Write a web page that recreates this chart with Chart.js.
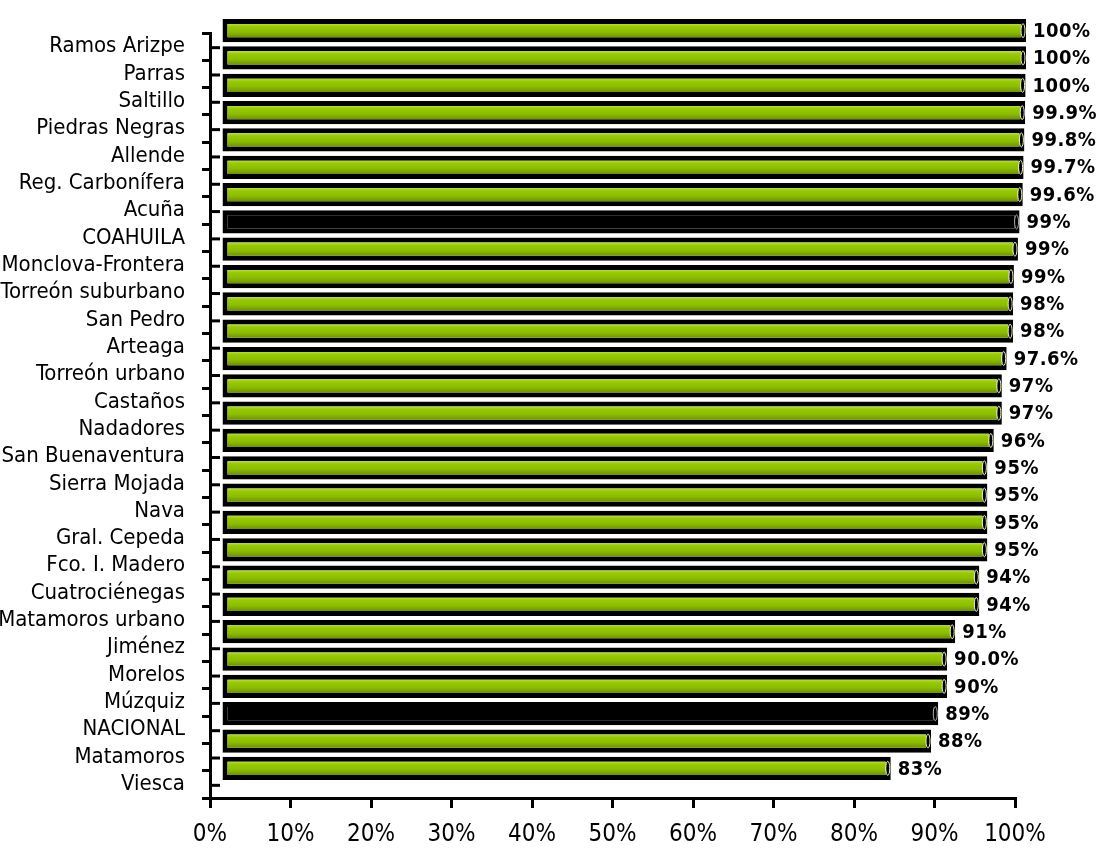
<!DOCTYPE html>
<html>
<head>
<meta charset="utf-8">
<title>Cobertura</title>
<script src="https://cdn.jsdelivr.net/npm/chart.js@4.4.0/dist/chart.umd.min.js"></script>
<style>
  body { margin: 0; background: #fff; }
  #wrap { width: 1099px; height: 854px; }
</style>
</head>
<body>
<div id="wrap"><canvas id="coberturaChart"></canvas></div>
<script>
var municipios = ['Ramos Arizpe', 'Parras', 'Saltillo', 'Piedras Negras', 'Allende',
    'Reg. Carbonífera', 'Acuña', 'COAHUILA', 'Monclova-Frontera', 'Torreón suburbano',
    'San Pedro', 'Arteaga', 'Torreón urbano', 'Castaños', 'Nadadores', 'San Buenaventura',
    'Sierra Mojada', 'Nava', 'Gral. Cepeda', 'Fco. I. Madero', 'Cuatrociénegas',
    'Matamoros urbano', 'Jiménez', 'Morelos', 'Múzquiz', 'NACIONAL', 'Matamoros', 'Viesca'];

var cobertura = [100, 100, 99.95, 99.9, 99.8, 99.7, 99.6, 99.2, 99.0, 98.5,
    98.4, 98.4, 97.6, 97.0, 97.0, 96.0, 95.2, 95.2, 95.2, 95.2, 94.2,
    94.2, 91.2, 90.2, 90.2, 89.1, 88.2, 83.2];

var etiquetas = ['100%', '100%', '100%', '99.9%', '99.8%', '99.7%', '99.6%', '99%', '99%', '99%',
    '98%', '98%', '97.6%', '97%', '97%', '96%', '95%', '95%', '95%', '95%', '94%',
    '94%', '91%', '90.0%', '90%', '89%', '88%', '83%'];

var xTicks = [0, 10, 20, 30, 40, 50, 60, 70, 80, 90, 100];

var narrow = "'Liberation Sans Narrow', 'Arial Narrow', 'DejaVu Sans Condensed', sans-serif";
var dx = 11, dy = -16;

function esTotal(i) {
    return municipios[i] === 'COAHUILA' || municipios[i] === 'NACIONAL';
}

function barFill(c) {
    if (esTotal(c.dataIndex)) return '#000000';
    var ys = c.chart.scales.y;
    var y = ys ? ys.getPixelForValue(c.dataIndex) : NaN;
    if (!isFinite(y)) return '#8cbc00';
    var g = c.chart.ctx.createLinearGradient(0, y - 7, 0, y + 7);
    g.addColorStop(0, '#b8e040');
    g.addColorStop(0.22, '#98ca00');
    g.addColorStop(0.6, '#8cbc00');
    g.addColorStop(1, '#6a9000');
    return g;
}

// shift the bars like the 3D depth of the original
var depthShift = {
    id: 'depthShift',
    beforeDatasetsDraw: function (chart) {
        chart.ctx.save();
        chart.ctx.translate(dx, dy);
    },
    afterDatasetsDraw: function (chart) {
        var ctx = chart.ctx;
        var meta = chart.getDatasetMeta(0);
        meta.data.forEach(function (bar, i) {
            // end cap
            ctx.beginPath();
            ctx.ellipse(bar.x - 3, bar.y, 2, 7, 0, 0, Math.PI * 2);
            ctx.strokeStyle = esTotal(i) ? '#aaa' : '#e8f5c0';
            ctx.lineWidth = 1;
            ctx.stroke();
            // value label
            ctx.font = 'bold 20px ' + narrow;
            ctx.letterSpacing = '0.5px';
            ctx.fillStyle = '#000';
            ctx.textAlign = 'left';
            ctx.textBaseline = 'middle';
            ctx.fillText(etiquetas[i], bar.x + 7, bar.y + 1);
        });
        ctx.restore();

        // short stubs on the y axis
        var ys = chart.scales.y;
        ctx.save();
        ctx.strokeStyle = '#000';
        ctx.lineWidth = 3;
        for (var k = 0; k < municipios.length; k++) {
            var py = ys.getPixelForValue(k) + 1;
            ctx.beginPath();
            ctx.moveTo(ys.right, py);
            ctx.lineTo(ys.right + 10, py);
            ctx.stroke();
        }
        ctx.restore();
    }
};

var ctx = document.getElementById('coberturaChart').getContext('2d');
var coberturaChart = new Chart(ctx, {
    type: 'bar',
    data: {
        labels: municipios,
        datasets: [
            {
                label: 'Cobertura',
                data: cobertura,
                backgroundColor: barFill,
                borderColor: '#000',
                borderWidth: 5,
                borderSkipped: false,
                barPercentage: 0.85,
                categoryPercentage: 1
            }
        ]
    },
    plugins: [depthShift],
    options: {
        indexAxis: 'y',
        responsive: true,
        maintainAspectRatio: false,
        animation: false,
        layout: {
            padding: { top: 33, right: 84, left: 0, bottom: 0 }
        },
        plugins: {
            legend: { display: false },
            title: { display: false },
            tooltip: { enabled: false }
        },
        scales: {
            x: {
                min: 0,
                max: 100,
                afterFit: function (s) { s.height = 56; },
                afterBuildTicks: function (s) {
                    s.ticks = xTicks.map(function (v) { return { value: v }; });
                },
                ticks: {
                    color: '#000',
                    padding: 12,
                    font: { family: narrow, size: 24 },
                    callback: function (v) { return v + '%'; }
                },
                grid: {
                    drawOnChartArea: false,
                    tickLength: 10,
                    color: '#000',
                    lineWidth: 3
                },
                border: { color: '#000', width: 3 }
            },
            y: {
                afterFit: function (s) { s.width = 210; },
                ticks: {
                    color: '#000',
                    padding: 17,
                    autoSkip: false,
                    font: { family: narrow, size: 22 }
                },
                grid: {
                    drawOnChartArea: false,
                    tickLength: 8,
                    color: '#000',
                    lineWidth: 3
                },
                border: { color: '#000', width: 3 }
            }
        }
    }
});
</script>
</body>
</html>
